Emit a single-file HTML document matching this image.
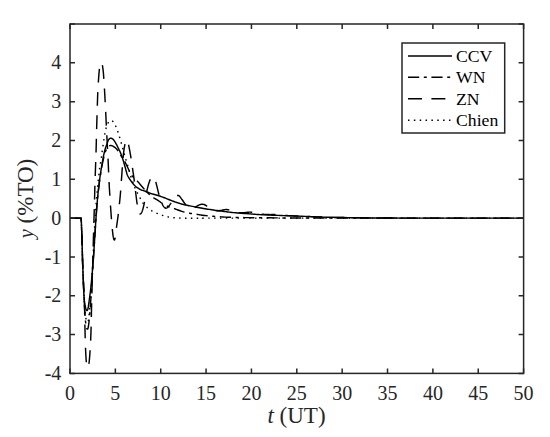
<!DOCTYPE html>
<html><head><meta charset="utf-8"><style>
html,body{margin:0;padding:0;background:#fff;}
body{width:550px;height:437px;overflow:hidden;font-family:"Liberation Serif",serif;}
svg{display:block;}
</style></head><body>
<svg width="550" height="437" viewBox="0 0 550 437">
<rect x="0" y="0" width="550" height="437" fill="#fff"/>
<g fill="none" stroke="#000" stroke-width="1.45" stroke-linejoin="round">
<path d="M70.00,218.11 L75.00,218.11 L81.20,218.11  L81.20,218.11 L81.26,219.80 L81.35,222.04 L81.45,224.71 L81.56,227.68 L81.68,230.82 L81.80,234.01 L81.90,237.11 L82.00,240.00 L82.08,242.77 L82.16,245.59 L82.24,248.42 L82.31,251.24 L82.38,254.04 L82.45,256.78 L82.52,259.44 L82.60,262.00 L82.68,264.46 L82.77,266.83 L82.86,269.13 L82.94,271.38 L83.03,273.57 L83.12,275.73 L83.21,277.87 L83.30,280.00 L83.39,282.14 L83.48,284.28 L83.57,286.41 L83.66,288.50 L83.74,290.53 L83.83,292.47 L83.92,294.30 L84.00,296.00 L84.08,297.54 L84.15,298.95 L84.22,300.23 L84.29,301.44 L84.36,302.59 L84.44,303.71 L84.52,304.84 L84.60,306.00 L84.69,307.20 L84.78,308.40 L84.88,309.60 L84.97,310.78 L85.08,311.93 L85.18,313.02 L85.29,314.05 L85.40,315.00 L85.52,315.88 L85.64,316.71 L85.76,317.49 L85.89,318.22 L86.02,318.88 L86.15,319.49 L86.27,320.03 L86.40,320.50 L86.53,320.90 L86.65,321.24 L86.78,321.51 L86.90,321.72 L87.03,321.87 L87.15,321.96 L87.28,322.01 L87.40,322.00 L87.52,321.97 L87.65,321.91 L87.77,321.81 L87.89,321.66 L88.02,321.42 L88.14,321.07 L88.27,320.61 L88.40,320.00 L88.53,319.26 L88.66,318.41 L88.79,317.45 L88.93,316.38 L89.06,315.20 L89.20,313.91 L89.35,312.51 L89.50,311.00 L89.66,309.43 L89.82,307.82 L89.99,306.13 L90.16,304.31 L90.34,302.33 L90.52,300.15 L90.71,297.72 L90.90,295.00 L91.10,291.89 L91.31,288.37 L91.53,284.56 L91.75,280.56 L91.97,276.50 L92.19,272.48 L92.40,268.61 L92.60,265.00 L92.79,261.60 L92.98,258.28 L93.16,255.04 L93.34,251.88 L93.52,248.79 L93.69,245.78 L93.85,242.85 L94.00,240.00 L94.14,237.24 L94.27,234.58 L94.40,232.00 L94.51,229.50 L94.63,227.06 L94.75,224.67 L94.87,222.32 L95.00,220.00 L95.14,217.70 L95.29,215.45 L95.44,213.23 L95.59,211.06 L95.75,208.95 L95.90,206.90 L96.05,204.91 L96.20,203.00 L96.34,201.16 L96.48,199.40 L96.62,197.70 L96.76,196.06 L96.90,194.48 L97.03,192.95 L97.17,191.45 L97.30,190.00 L97.43,188.59 L97.56,187.24 L97.69,185.94 L97.81,184.69 L97.94,183.47 L98.06,182.29 L98.18,181.13 L98.30,180.00 L98.42,178.90 L98.53,177.84 L98.64,176.81 L98.76,175.81 L98.87,174.84 L98.98,173.88 L99.09,172.94 L99.20,172.00 L99.31,171.06 L99.42,170.13 L99.53,169.21 L99.64,168.31 L99.76,167.43 L99.87,166.59 L99.98,165.77 L100.10,165.00 L100.22,164.28 L100.35,163.61 L100.49,162.98 L100.62,162.38 L100.75,161.79 L100.88,161.20 L100.99,160.61 L101.10,160.00 L101.19,159.38 L101.28,158.76 L101.35,158.14 L101.42,157.53 L101.49,156.90 L101.55,156.28 L101.62,155.64 L101.70,155.00 L101.78,154.35 L101.86,153.69 L101.95,153.02 L102.03,152.35 L102.12,151.67 L102.21,150.99 L102.30,150.30 L102.40,149.60 L102.50,148.89 L102.61,148.18 L102.72,147.46 L102.84,146.73 L102.95,146.00 L103.07,145.27 L103.19,144.53 L103.30,143.80 L103.41,143.06 L103.52,142.32 L103.64,141.57 L103.75,140.82 L103.86,140.08 L103.97,139.34 L104.09,138.61 L104.20,137.90 L104.31,137.20 L104.42,136.51 L104.52,135.82 L104.63,135.14 L104.74,134.47 L104.85,133.81 L104.97,133.15 L105.10,132.50 L105.23,131.85 L105.37,131.20 L105.51,130.55 L105.66,129.91 L105.81,129.28 L105.97,128.67 L106.13,128.07 L106.30,127.50 L106.47,126.94 L106.65,126.39 L106.84,125.85 L107.02,125.33 L107.22,124.83 L107.41,124.36 L107.61,123.91 L107.80,123.50 L108.00,123.12 L108.19,122.77 L108.39,122.44 L108.59,122.14 L108.80,121.87 L109.00,121.62 L109.20,121.40 L109.40,121.20 L109.60,121.03 L109.80,120.88 L110.00,120.75 L110.19,120.66 L110.39,120.58 L110.59,120.53 L110.80,120.50 L111.00,120.50 L111.21,120.52 L111.42,120.55 L111.63,120.62 L111.84,120.70 L112.05,120.81 L112.27,120.95 L112.48,121.11 L112.70,121.30 L112.92,121.52 L113.14,121.77 L113.36,122.04 L113.58,122.34 L113.81,122.66 L114.03,123.02 L114.26,123.39 L114.50,123.80 L114.74,124.24 L114.99,124.72 L115.25,125.22 L115.51,125.76 L115.76,126.31 L116.02,126.87 L116.26,127.43 L116.50,128.00 L116.73,128.57 L116.95,129.14 L117.16,129.73 L117.37,130.32 L117.58,130.92 L117.78,131.54 L117.99,132.16 L118.20,132.80 L118.41,133.45 L118.62,134.12 L118.84,134.80 L119.05,135.49 L119.26,136.18 L119.48,136.89 L119.69,137.59 L119.90,138.30 L120.11,139.01 L120.33,139.73 L120.54,140.45 L120.76,141.18 L120.97,141.90 L121.18,142.64 L121.39,143.37 L121.60,144.10 L121.80,144.83 L122.01,145.57 L122.21,146.31 L122.41,147.05 L122.60,147.79 L122.80,148.53 L123.00,149.27 L123.20,150.00 L123.39,150.71 L123.57,151.38 L123.75,152.03 L123.93,152.69 L124.12,153.38 L124.32,154.11 L124.55,154.91 L124.80,155.80 L125.08,156.77 L125.38,157.80 L125.70,158.88 L126.03,160.01 L126.38,161.20 L126.74,162.42 L127.12,163.69 L127.50,165.00 L127.90,166.38 L128.32,167.86 L128.75,169.40 L129.20,170.98 L129.65,172.56 L130.11,174.11 L130.56,175.60 L131.00,177.00 L131.44,178.33 L131.88,179.61 L132.33,180.86 L132.78,182.08 L133.22,183.25 L133.65,184.37 L134.08,185.46 L134.50,186.50 L134.90,187.48 L135.30,188.40 L135.68,189.27 L136.06,190.11 L136.43,190.91 L136.81,191.71 L137.20,192.50 L137.60,193.30 L138.01,194.11 L138.44,194.92 L138.87,195.72 L139.31,196.51 L139.74,197.29 L140.17,198.05 L140.59,198.79 L141.00,199.50 L141.38,200.19 L141.74,200.85 L142.08,201.49 L142.41,202.12 L142.76,202.73 L143.13,203.33 L143.54,203.92 L144.00,204.50 L144.51,205.08 L145.07,205.65 L145.66,206.22 L146.28,206.78 L146.91,207.31 L147.55,207.83 L148.18,208.33 L148.80,208.80 L149.40,209.24 L150.01,209.66 L150.61,210.05 L151.21,210.42 L151.82,210.78 L152.44,211.12 L153.06,211.46 L153.70,211.80 L154.35,212.13 L155.01,212.46 L155.69,212.77 L156.37,213.07 L157.05,213.37 L157.74,213.66 L158.42,213.93 L159.10,214.20 L159.77,214.46 L160.45,214.70 L161.12,214.94 L161.79,215.17 L162.47,215.39 L163.14,215.60 L163.82,215.80 L164.50,216.00 L165.18,216.19 L165.87,216.38 L166.56,216.55 L167.24,216.72 L167.93,216.89 L168.62,217.04 L169.31,217.17 L170.00,217.30 L170.66,217.41 L171.28,217.51 L171.89,217.59 L172.50,217.66 L173.14,217.73 L173.84,217.79 L174.62,217.84 L175.50,217.90 L176.46,217.95 L177.46,218.00 L178.53,218.05 L179.66,218.09 L180.86,218.12 L182.14,218.15 L183.52,218.18 L185.00,218.20 L186.44,218.22 L187.78,218.22 L189.12,218.23 L190.59,218.22 L192.30,218.22 L194.36,218.21 L196.89,218.21 L200.00,218.20 L202.14,218.19 L202.53,218.18 L202.46,218.16 L203.21,218.15 L206.06,218.13 L212.29,218.12 L223.17,218.11 L240.00,218.10 L265.73,218.10 L300.42,218.10 L340.97,218.10 L384.30,218.10 L427.32,218.10 L466.93,218.11 L500.06,218.11 L523.60,218.11" stroke-dasharray="1.5 4.35"/>
<path d="M70.60,218.11 L71.20,218.11 L71.80,218.11 L72.40,218.11 L73.00,218.11 L73.60,218.11 L74.20,218.11 L74.80,218.11 L75.40,218.11 L76.00,218.11 L76.60,218.11 L77.20,218.11 L77.80,218.11 L78.40,218.11 L79.00,218.11 L79.60,218.11 L80.20,218.11 L80.80,218.11 L81.21,218.31 L81.23,218.91 L81.25,219.51 L81.27,220.11 L81.30,220.71 L81.32,221.31 M81.68,230.90 L81.70,231.50 L81.73,232.10 L81.75,232.70 L81.77,233.30 L81.79,233.90 L81.81,234.50 L81.83,235.10 L81.85,235.70 L81.88,236.30 L81.90,236.90 L81.92,237.50 L81.94,238.10 L81.96,238.70 L81.98,239.30 L82.00,239.90 L82.02,240.50 L82.03,241.10 L82.05,241.70 L82.07,242.30 L82.09,242.90 L82.10,243.49 L82.12,244.09 L82.14,244.69 M82.38,254.29 L82.40,254.89 L82.41,255.49 L82.43,256.09 L82.45,256.69 L82.46,257.29 L82.48,257.89 L82.50,258.49 L82.51,259.09 L82.53,259.69 L82.55,260.29 L82.57,260.89 L82.58,261.49 L82.60,262.09 L82.62,262.69 L82.64,263.29 L82.66,263.89 L82.68,264.49 L82.71,265.09 L82.73,265.69 L82.75,266.29 L82.77,266.89 L82.79,267.48 L82.82,268.08 M83.20,277.68 L83.23,278.28 L83.25,278.88 L83.28,279.48 L83.30,280.07 L83.33,280.67 L83.35,281.27 L83.38,281.87 L83.40,282.47 L83.43,283.07 L83.46,283.67 L83.48,284.27 L83.51,284.87 L83.53,285.47 L83.56,286.07 L83.59,286.67 L83.61,287.27 L83.64,287.87 L83.67,288.47 L83.69,289.07 L83.72,289.67 L83.75,290.26 L83.77,290.86 L83.80,291.46 M84.24,301.05 L84.27,301.65 L84.29,302.25 L84.32,302.85 L84.35,303.45 L84.38,304.05 L84.40,304.65 L84.43,305.25 L84.45,305.85 L84.48,306.45 L84.50,307.05 L84.52,307.65 L84.54,308.25 L84.56,308.85 L84.58,309.45 L84.60,310.05 L84.62,310.65 L84.63,311.25 L84.65,311.85 L84.66,312.45 L84.68,313.05 L84.69,313.65 L84.70,314.24 L84.72,314.84 M84.89,324.44 L84.90,325.04 L84.91,325.64 L84.92,326.24 L84.93,326.84 L84.94,327.44 L84.96,328.04 L84.97,328.64 L84.98,329.24 L85.00,329.84 L85.01,330.44 L85.03,331.04 L85.04,331.64 L85.05,332.24 L85.07,332.84 L85.08,333.44 L85.10,334.04 L85.11,334.64 L85.13,335.24 L85.14,335.84 L85.16,336.44 L85.17,337.04 L85.19,337.64 L85.21,338.24 M85.51,347.83 L85.54,348.43 L85.56,349.03 L85.59,349.63 L85.61,350.23 L85.64,350.83 L85.67,351.43 L85.70,352.03 L85.72,352.63 L85.75,353.23 L85.78,353.83 L85.81,354.43 L85.85,355.03 L85.88,355.63 L85.91,356.22 L85.95,356.82 L85.99,357.42 L86.02,358.02 L86.06,358.62 L86.10,359.22 L86.15,359.82 L86.19,360.42 L86.25,361.01 L86.30,361.61 L86.36,362.21 M88.92,363.97 L89.00,363.38 L89.07,362.78 L89.14,362.18 L89.20,361.59 L89.26,360.99 L89.32,360.39 L89.37,359.79 L89.43,359.20 L89.48,358.60 L89.53,358.00 L89.58,357.40 L89.63,356.81 L89.68,356.21 L89.72,355.61 L89.77,355.01 L89.81,354.41 L89.86,353.81 L89.90,353.22 L89.94,352.62 L89.99,352.02 L90.03,351.42 L90.07,350.82 L90.10,350.22 M90.63,340.64 L90.66,340.04 L90.69,339.44 L90.71,338.84 L90.74,338.24 L90.76,337.64 L90.79,337.04 L90.81,336.44 L90.83,335.84 L90.86,335.24 L90.88,334.64 L90.90,334.04 L90.92,333.44 L90.94,332.84 L90.96,332.24 L90.98,331.64 L91.00,331.04 L91.02,330.44 L91.03,329.85 L91.05,329.25 L91.07,328.65 L91.08,328.05 L91.10,327.45 L91.11,326.85 L91.12,326.65 M91.33,317.05 L91.34,316.45 L91.36,315.85 L91.37,315.25 L91.38,314.65 L91.39,314.05 L91.41,313.45 L91.42,312.85 L91.43,312.25 L91.45,311.65 L91.46,311.05 L91.47,310.45 L91.49,309.85 L91.50,309.25 L91.51,308.65 L91.53,308.05 L91.54,307.45 L91.56,306.85 L91.57,306.25 L91.58,305.65 L91.60,305.05 L91.61,304.45 L91.63,303.85 L91.65,303.25 M91.92,293.46 L91.93,292.86 L91.95,292.26 L91.97,291.66 L91.99,291.06 L92.00,290.46 L92.02,289.86 L92.04,289.26 L92.06,288.66 L92.07,288.06 L92.09,287.46 L92.11,286.86 L92.12,286.26 L92.14,285.66 L92.16,285.06 L92.18,284.46 L92.19,283.86 L92.21,283.26 L92.23,282.66 L92.24,282.06 L92.26,281.46 L92.28,280.86 L92.29,280.26 L92.31,279.66 M92.57,270.07 L92.58,269.47 L92.60,268.87 L92.61,268.27 L92.63,267.67 L92.65,267.07 L92.66,266.47 L92.68,265.87 L92.69,265.27 L92.71,264.67 L92.72,264.07 L92.74,263.47 L92.76,262.87 L92.77,262.27 L92.79,261.67 L92.80,261.07 L92.82,260.47 L92.84,259.87 L92.85,259.27 L92.87,258.67 L92.88,258.07 L92.90,257.47 L92.92,256.87 L92.93,256.27 L92.94,256.07 M93.20,246.47 L93.21,245.87 L93.23,245.27 L93.25,244.67 L93.26,244.07 L93.28,243.47 L93.30,242.87 L93.31,242.28 L93.33,241.68 L93.35,241.08 L93.36,240.48 L93.38,239.88 L93.40,239.28 L93.41,238.68 L93.43,238.08 L93.45,237.48 L93.46,236.88 L93.48,236.28 L93.50,235.68 L93.51,235.08 L93.53,234.48 L93.55,233.88 L93.56,233.28 L93.58,232.68 M93.86,223.08 L93.87,222.48 L93.89,221.88 L93.91,221.28 L93.93,220.68 L93.95,220.08 L93.96,219.48 L93.98,218.88 L94.00,218.28 L94.02,217.69 L94.04,217.09 L94.06,216.49 L94.07,215.89 L94.09,215.29 L94.11,214.69 L94.13,214.09 L94.15,213.49 L94.17,212.89 L94.18,212.29 L94.20,211.69 L94.22,211.09 L94.24,210.49 L94.26,209.89 L94.27,209.29 L94.28,209.09 M94.55,199.49 L94.56,198.89 L94.58,198.29 L94.59,197.69 L94.61,197.09 L94.62,196.49 L94.64,195.89 L94.65,195.29 L94.67,194.69 L94.68,194.09 L94.70,193.49 L94.71,192.90 L94.73,192.30 L94.74,191.70 L94.76,191.10 L94.77,190.50 L94.79,189.90 L94.81,189.30 L94.82,188.70 L94.84,188.10 L94.86,187.50 L94.87,186.90 L94.89,186.30 L94.91,185.70 M95.22,176.10 L95.24,175.50 L95.26,174.90 L95.28,174.30 L95.31,173.70 L95.33,173.10 L95.35,172.50 L95.37,171.91 L95.39,171.31 L95.41,170.71 L95.43,170.11 L95.45,169.51 L95.47,168.91 L95.49,168.31 L95.51,167.71 L95.53,167.11 L95.55,166.51 L95.57,165.91 L95.59,165.31 L95.61,164.71 L95.63,164.11 L95.65,163.51 L95.67,162.91 L95.70,162.31 L95.70,162.11 M96.02,152.52 L96.04,151.92 L96.06,151.32 L96.08,150.72 L96.10,150.12 L96.11,149.52 L96.13,148.92 L96.15,148.32 L96.16,147.72 L96.18,147.12 L96.19,146.52 L96.21,145.92 L96.23,145.32 L96.24,144.72 L96.25,144.12 L96.27,143.52 L96.28,142.92 L96.30,142.32 L96.31,141.72 L96.33,141.12 L96.34,140.52 L96.35,139.92 L96.37,139.32 L96.38,138.72 M96.62,129.12 L96.64,128.52 L96.66,127.92 L96.67,127.32 L96.69,126.73 L96.71,126.13 L96.73,125.53 L96.74,124.93 L96.76,124.33 L96.78,123.73 L96.80,123.13 L96.81,122.53 L96.83,121.93 L96.85,121.33 L96.87,120.73 L96.89,120.13 L96.90,119.53 L96.92,118.93 L96.94,118.33 L96.96,117.73 L96.98,117.13 L97.00,116.53 L97.01,115.93 L97.03,115.33 M97.33,105.73 L97.35,105.14 L97.37,104.54 L97.39,103.94 L97.41,103.34 L97.42,102.74 L97.44,102.14 L97.46,101.54 L97.48,100.94 L97.50,100.34 L97.52,99.74 L97.54,99.14 L97.56,98.54 L97.58,97.94 L97.60,97.34 L97.62,96.74 L97.64,96.14 L97.66,95.54 L97.68,94.94 L97.71,94.34 L97.73,93.74 L97.75,93.14 L97.78,92.54 L97.79,92.14 M98.33,82.56 L98.37,81.96 L98.41,81.36 L98.45,80.76 L98.49,80.16 L98.53,79.56 L98.57,78.97 L98.61,78.37 L98.65,77.77 L98.69,77.17 L98.74,76.57 L98.78,75.97 L98.82,75.38 L98.87,74.78 L98.91,74.18 L98.96,73.58 L99.01,72.98 L99.06,72.38 L99.12,71.79 L99.17,71.19 L99.24,70.59 L99.30,70.00 L99.37,69.40 L99.45,68.81 M102.40,65.18 L102.49,65.78 L102.58,66.37 L102.67,66.96 L102.75,67.56 L102.84,68.15 L102.92,68.75 L103.00,69.34 L103.07,69.94 L103.14,70.53 L103.21,71.13 L103.27,71.72 L103.33,72.32 L103.39,72.92 L103.44,73.52 L103.50,74.11 L103.54,74.71 L103.59,75.31 L103.63,75.91 L103.68,76.51 L103.72,77.11 L103.76,77.70 L103.80,78.30 L103.84,78.90 M104.43,88.48 L104.47,89.08 L104.50,89.68 L104.54,90.28 L104.57,90.88 L104.60,91.48 L104.64,92.08 L104.67,92.68 L104.70,93.28 L104.74,93.87 L104.77,94.47 L104.80,95.07 L104.84,95.67 L104.87,96.27 L104.90,96.87 L104.94,97.47 L104.97,98.07 L105.00,98.67 L105.04,99.27 L105.07,99.87 L105.10,100.46 L105.13,101.06 L105.17,101.66 L105.20,102.26 M105.69,111.85 L105.72,112.45 L105.75,113.05 L105.78,113.65 L105.81,114.25 L105.83,114.85 L105.86,115.45 L105.89,116.04 L105.92,116.64 L105.94,117.24 L105.97,117.84 L106.00,118.44 L106.03,119.04 L106.06,119.64 L106.08,120.24 L106.11,120.84 L106.14,121.44 L106.17,122.04 L106.19,122.64 L106.22,123.24 L106.25,123.84 L106.28,124.44 L106.31,125.04 L106.33,125.63 M106.80,135.22 L106.84,135.82 L106.87,136.42 L106.90,137.02 L106.93,137.62 L106.96,138.22 L106.99,138.82 L107.02,139.42 L107.05,140.02 L107.08,140.62 L107.11,141.22 L107.14,141.81 L107.17,142.41 L107.20,143.01 L107.23,143.61 L107.26,144.21 L107.30,144.81 L107.33,145.41 L107.36,146.01 L107.39,146.61 L107.42,147.21 L107.46,147.81 L107.49,148.41 L107.52,149.00 M108.03,158.59 L108.06,159.19 L108.08,159.79 L108.11,160.39 L108.14,160.99 L108.16,161.59 L108.19,162.19 L108.21,162.79 L108.24,163.39 L108.27,163.99 L108.29,164.59 L108.31,165.18 L108.34,165.78 L108.36,166.38 L108.39,166.98 L108.41,167.58 L108.44,168.18 L108.46,168.78 L108.49,169.38 L108.51,169.98 L108.54,170.58 L108.56,171.18 L108.59,171.78 L108.62,172.38 M109.05,181.97 L109.08,182.57 L109.10,183.17 L109.14,183.77 L109.17,184.37 L109.20,184.96 L109.23,185.56 L109.26,186.16 L109.30,186.76 L109.33,187.36 L109.37,187.96 L109.40,188.56 L109.44,189.16 L109.48,189.76 L109.51,190.36 L109.55,190.95 L109.59,191.55 L109.62,192.15 L109.66,192.75 L109.70,193.35 L109.74,193.95 L109.78,194.55 L109.82,195.15 L109.85,195.74 M110.49,205.52 L110.53,206.12 L110.57,206.72 L110.62,207.32 L110.66,207.92 L110.70,208.52 L110.74,209.12 L110.78,209.71 L110.82,210.31 L110.86,210.91 L110.91,211.51 L110.95,212.11 L110.99,212.71 L111.03,213.31 L111.07,213.90 L111.12,214.50 L111.16,215.10 L111.20,215.70 L111.24,216.30 L111.29,216.90 L111.33,217.49 L111.38,218.09 L111.42,218.69 L111.47,219.29 M112.30,229.05 L112.36,229.65 L112.43,230.25 L112.49,230.84 L112.55,231.44 L112.61,232.04 L112.68,232.63 L112.75,233.23 L112.82,233.83 L112.89,234.42 L112.97,235.02 L113.06,235.61 L113.15,236.20 L113.26,236.79 L113.37,237.38 L113.50,237.97 L113.65,238.55 L113.81,239.13 L114.02,239.69 L114.41,240.06 L114.71,239.54 L114.88,238.97 L115.03,238.39 L115.15,237.80 L115.19,237.60 M116.43,227.88 L116.50,227.29 L116.58,226.69 L116.65,226.10 L116.73,225.50 L116.82,224.91 L116.90,224.31 L116.98,223.72 L117.07,223.13 L117.16,222.53 L117.24,221.94 L117.33,221.35 L117.41,220.75 L117.50,220.16 L117.58,219.56 L117.67,218.97 L117.75,218.38 L117.83,217.78 L117.91,217.19 L117.99,216.59 L118.06,216.00 L118.14,215.40 L118.21,214.81 L118.28,214.21 L118.33,213.81 M119.38,204.27 L119.45,203.67 L119.51,203.08 L119.57,202.48 L119.64,201.88 L119.70,201.29 L119.76,200.69 L119.82,200.09 L119.88,199.50 L119.94,198.90 L120.00,198.30 L120.05,197.70 L120.11,197.11 L120.16,196.51 L120.22,195.91 L120.27,195.31 L120.32,194.72 L120.37,194.12 L120.42,193.52 L120.47,192.92 L120.52,192.32 L120.57,191.73 L120.61,191.13 L120.66,190.53 M121.35,180.96 L121.39,180.36 L121.44,179.76 L121.48,179.16 L121.52,178.56 L121.57,177.96 L121.61,177.36 L121.65,176.77 L121.70,176.17 L121.74,175.57 L121.78,174.97 L121.83,174.37 L121.87,173.77 L121.91,173.18 L121.96,172.58 L122.00,171.98 L122.04,171.38 L122.09,170.78 L122.13,170.18 L122.17,169.58 L122.21,168.99 L122.25,168.39 L122.30,167.79 L122.34,167.19 M123.09,157.82 L123.14,157.22 L123.20,156.63 L123.26,156.03 L123.32,155.43 L123.38,154.84 L123.45,154.24 L123.51,153.64 L123.58,153.05 L123.65,152.45 L123.72,151.85 L123.79,151.26 L123.87,150.66 L123.95,150.07 L124.03,149.47 L124.12,148.88 L124.21,148.29 L124.30,147.70 L124.40,147.10 L124.51,146.51 L124.61,145.92 L124.73,145.33 L124.85,144.75 L124.97,144.16 M128.57,144.75 L128.69,145.34 L128.81,145.93 L128.93,146.52 L129.05,147.10 L129.17,147.69 L129.28,148.28 L129.39,148.87 L129.51,149.46 L129.62,150.05 L129.73,150.64 L129.83,151.23 L129.94,151.82 L130.05,152.41 L130.15,153.00 L130.26,153.59 L130.36,154.18 L130.46,154.77 L130.56,155.37 L130.66,155.96 L130.76,156.55 L130.86,157.14 L130.96,157.73 L131.05,158.33 M132.46,167.82 L132.55,168.42 L132.63,169.01 L132.72,169.60 L132.80,170.20 L132.89,170.79 L132.97,171.39 L133.05,171.98 L133.14,172.57 L133.22,173.17 L133.31,173.76 L133.40,174.36 L133.49,174.95 L133.57,175.54 L133.66,176.14 L133.75,176.73 L133.83,177.32 L133.92,177.92 L134.00,178.51 L134.08,179.11 L134.16,179.70 L134.24,180.30 L134.31,180.89 L134.39,181.49 M135.52,191.02 L135.59,191.62 L135.66,192.21 L135.73,192.81 L135.80,193.40 L135.87,194.00 L135.94,194.60 L136.01,195.19 L136.08,195.79 L136.15,196.38 L136.22,196.98 L136.29,197.57 L136.37,198.17 L136.44,198.77 L136.52,199.36 L136.59,199.96 L136.67,200.55 L136.75,201.14 L136.83,201.74 L136.91,202.33 L136.99,202.93 L137.08,203.52 L137.16,204.12 L137.22,204.51 M139.62,213.72 L140.12,214.03 L140.67,213.84 L141.07,213.40 L141.39,212.89 L141.67,212.36 L141.92,211.82 L142.15,211.26 L142.36,210.70 L142.56,210.13 L142.74,209.56 L142.90,208.98 L143.06,208.41 L143.22,207.83 L143.36,207.24 L143.50,206.66 L143.64,206.08 L143.78,205.49 L143.91,204.91 L144.04,204.32 L144.16,203.73 L144.29,203.15 L144.40,202.56 L144.52,201.97 M146.46,192.57 L146.60,191.98 L146.73,191.40 L146.86,190.81 L147.00,190.23 L147.14,189.65 L147.28,189.06 L147.43,188.48 L147.58,187.90 L147.72,187.32 L147.88,186.74 L148.03,186.16 L148.19,185.58 L148.35,185.00 L148.51,184.42 L148.68,183.85 L148.85,183.27 L149.03,182.70 L149.23,182.13 L149.43,181.57 L149.63,181.01 L149.86,180.45 L150.09,179.90 L150.34,179.35 M155.77,181.90 L155.94,182.48 L156.09,183.06 L156.24,183.64 L156.39,184.22 L156.53,184.80 L156.68,185.39 L156.82,185.97 L156.96,186.55 L157.11,187.13 L157.25,187.72 L157.40,188.30 L157.54,188.88 L157.68,189.46 L157.82,190.05 L157.95,190.63 L158.09,191.22 L158.23,191.80 L158.37,192.38 L158.52,192.97 L158.67,193.55 L158.82,194.13 L158.97,194.71 L159.03,194.90 M162.13,203.76 L162.39,204.31 L162.65,204.84 L162.94,205.37 L163.25,205.88 L163.59,206.38 L163.96,206.85 L164.35,207.31 L164.79,207.72 L165.28,208.06 L165.84,208.24 L166.43,208.15 L166.96,207.87 L167.44,207.50 L167.89,207.12 L168.32,206.70 L168.72,206.24 L169.09,205.77 L169.44,205.29 L169.79,204.80 L170.13,204.31 L170.46,203.80 L170.78,203.30 L171.09,202.78 M177.06,195.44 L177.65,195.35 L178.24,195.43 L178.79,195.66 L179.28,196.01 L179.72,196.41 L180.11,196.87 L180.48,197.35 L180.83,197.83 L181.17,198.32 L181.51,198.82 L181.86,199.31 L182.21,199.79 L182.56,200.28 L182.90,200.78 L183.23,201.27 L183.57,201.77 L183.93,202.25 L184.29,202.73 L184.66,203.20 L185.05,203.66 L185.43,204.12 L185.83,204.57 L186.24,205.01 M194.68,207.48 L195.21,207.21 L195.73,206.90 L196.23,206.58 L196.73,206.25 L197.25,205.94 L197.78,205.66 L198.31,205.39 L198.86,205.13 L199.40,204.89 L199.96,204.67 L200.53,204.49 L201.12,204.36 L201.71,204.27 L202.31,204.25 L202.91,204.29 L203.50,204.39 L204.08,204.55 L204.64,204.76 L205.18,205.02 L205.70,205.33 L206.19,205.67 L206.66,206.05 L207.12,206.43 M215.62,210.66 L216.22,210.76 L216.81,210.82 L217.41,210.83 L218.01,210.80 L218.61,210.75 L219.20,210.67 L219.80,210.58 L220.39,210.49 L220.98,210.40 L221.58,210.31 L222.16,210.19 L222.75,210.06 L223.33,209.93 L223.92,209.80 L224.51,209.70 L225.11,209.63 L225.71,209.57 L226.31,209.56 L226.90,209.59 L227.50,209.66 L228.09,209.75 L228.68,209.87 L229.27,210.01 M238.50,212.60 L239.09,212.70 L239.69,212.77 L240.28,212.82 L240.88,212.84 L241.48,212.84 L242.08,212.82 L242.68,212.78 L243.28,212.74 L243.88,212.69 L244.48,212.64 L245.07,212.59 L245.67,212.54 L246.27,212.47 L246.86,212.38 L247.46,212.30 L248.05,212.22 L248.65,212.16 L249.25,212.12 L249.85,212.10 L250.44,212.12 L251.04,212.16 L251.64,212.23 L252.23,212.31 M261.65,214.15 L262.25,214.23 L262.84,214.29 L263.44,214.34 L264.04,214.39 L264.64,214.42 L265.24,214.46 L265.84,214.48 L266.44,214.51 L267.04,214.53 L267.64,214.55 L268.24,214.56 L268.84,214.57 L269.44,214.59 L270.04,214.60 L270.64,214.60 L271.24,214.59 L271.84,214.57 L272.43,214.55 L273.03,214.51 L273.63,214.49 L274.23,214.47 L274.83,214.47 L275.43,214.48 M284.99,215.40 L285.58,215.44 L286.18,215.48 L286.78,215.52 L287.38,215.56 L287.98,215.60 L288.58,215.64 L289.18,215.67 L289.78,215.71 L290.38,215.74 L290.97,215.78 L291.57,215.81 L292.17,215.84 L292.77,215.87 L293.37,215.90 L293.97,215.93 L294.57,215.96 L295.17,215.99 L295.77,216.01 L296.37,216.04 L296.97,216.07 L297.57,216.09 L298.17,216.12 L298.77,216.15 M308.36,216.54 L308.96,216.57 L309.56,216.59 L310.16,216.62 L310.76,216.64 L311.35,216.66 L311.95,216.69 L312.55,216.71 L313.15,216.73 L313.75,216.76 L314.35,216.78 L314.95,216.80 L315.55,216.82 L316.15,216.85 L316.75,216.87 L317.35,216.89 L317.95,216.91 L318.55,216.93 L319.15,216.96 L319.75,216.98 L320.35,217.00 L320.95,217.02 L321.55,217.04 L322.15,217.06 M331.74,217.34 L332.34,217.36 L332.94,217.37 L333.54,217.39 L334.14,217.40 L334.74,217.42 L335.34,217.43 L335.94,217.44 L336.54,217.46 L337.14,217.47 L337.74,217.48 L338.34,217.49 L338.94,217.50 L339.54,217.52 L340.14,217.53 L340.74,217.54 L341.34,217.55 L341.94,217.56 L342.54,217.57 L343.14,217.58 L343.74,217.59 L344.34,217.60 L344.94,217.61 L345.54,217.62 M355.14,217.74 L355.74,217.75 L356.34,217.76 L356.94,217.76 L357.54,217.77 L358.14,217.78 L358.74,217.79 L359.34,217.79 L359.94,217.80 L360.54,217.81 L361.14,217.81 L361.74,217.82 L362.34,217.83 L362.94,217.83 L363.54,217.84 L364.14,217.84 L364.74,217.85 L365.34,217.86 L365.94,217.86 L366.54,217.87 L367.14,217.87 L367.74,217.88 L368.34,217.89 L368.94,217.89 M378.54,217.97 L379.14,217.98 L379.74,217.98 L380.34,217.99 L380.94,217.99 L381.54,218.00 L382.14,218.00 L382.74,218.01 L383.34,218.01 L383.94,218.01 L384.54,218.02 L385.14,218.02 L385.74,218.03 L386.34,218.03 L386.94,218.03 L387.54,218.04 L388.14,218.04 L388.74,218.04 L389.34,218.05 L389.94,218.05 L390.54,218.05 L391.14,218.06 L391.74,218.06 L392.34,218.06 M401.94,218.11 L402.54,218.11 L403.14,218.11 L403.74,218.11 L404.34,218.11 L404.94,218.11 L405.54,218.12 L406.14,218.12 L406.74,218.12 L407.34,218.12 L407.94,218.12 L408.54,218.12 L409.14,218.12 L409.74,218.12 L410.34,218.12 L410.94,218.12 L411.54,218.12 L412.14,218.12 L412.74,218.12 L413.34,218.12 L413.94,218.12 L414.54,218.12 L415.14,218.12 L415.74,218.12 M425.34,218.11 L425.94,218.11 L426.54,218.11 L427.14,218.11 L427.74,218.11 L428.34,218.11 L428.94,218.10 L429.54,218.10 L430.14,218.10 L430.74,218.10 L431.34,218.10 L431.94,218.10 L432.54,218.10 L433.14,218.10 L433.74,218.10 L434.34,218.10 L434.94,218.10 L435.54,218.10 L436.14,218.10 L436.74,218.10 L437.34,218.10 L437.94,218.10 L438.54,218.10 L439.14,218.10 M448.74,218.10 L449.34,218.10 L449.94,218.10 L450.54,218.10 L451.14,218.10 L451.74,218.10 L452.34,218.10 L452.94,218.10 L453.54,218.10 L454.14,218.10 L454.74,218.10 L455.34,218.10 L455.94,218.10 L456.54,218.10 L457.14,218.10 L457.74,218.10 L458.34,218.10 L458.94,218.10 L459.54,218.10 L460.14,218.10 L460.74,218.10 L461.34,218.10 L461.94,218.10 L462.54,218.10 M472.14,218.10 L472.74,218.10 L473.34,218.10 L473.94,218.10 L474.54,218.10 L475.14,218.10 L475.74,218.10 L476.34,218.10 L476.94,218.10 L477.54,218.10 L478.14,218.10 L478.74,218.10 L479.34,218.10 L479.94,218.10 L480.54,218.11 L481.14,218.11 L481.74,218.11 L482.34,218.11 L482.94,218.11 L483.54,218.11 L484.14,218.11 L484.74,218.11 L485.34,218.11 L485.94,218.11 M495.54,218.11 L496.14,218.11 L496.74,218.11 L497.34,218.11 L497.94,218.11 L498.54,218.11 L499.14,218.11 L499.74,218.11 L500.34,218.11 L500.94,218.11 L501.54,218.11 L502.14,218.11 L502.74,218.11 L503.34,218.11 L503.94,218.11 L504.54,218.11 L505.14,218.11 L505.74,218.11 L506.34,218.11 L506.94,218.11 L507.54,218.11 L508.14,218.11 L508.74,218.11 L509.34,218.11 M518.94,218.11 L519.54,218.11 L520.14,218.11 L520.74,218.11 L521.34,218.11 L521.94,218.11 L522.54,218.11 L523.14,218.11 L523.60,218.11"/>
<path d="M70.00,218.11 L75.00,218.11 L81.20,218.11  L81.20,218.11 L81.26,219.80 L81.35,222.04 L81.45,224.71 L81.56,227.68 L81.68,230.82 L81.80,234.01 L81.90,237.11 L82.00,240.00 L82.08,242.77 L82.16,245.59 L82.24,248.42 L82.31,251.24 L82.38,254.04 L82.45,256.78 L82.52,259.44 L82.60,262.00 L82.68,264.46 L82.77,266.83 L82.86,269.13 L82.94,271.38 L83.03,273.57 L83.12,275.73 L83.21,277.87 L83.30,280.00 L83.39,282.12 L83.48,284.23 L83.57,286.32 L83.66,288.38 L83.74,290.38 L83.83,292.33 L83.92,294.21 L84.00,296.00 L84.08,297.70 L84.15,299.30 L84.23,300.84 L84.30,302.31 L84.37,303.75 L84.45,305.16 L84.52,306.58 L84.60,308.00 L84.68,309.45 L84.76,310.90 L84.85,312.35 L84.93,313.78 L85.02,315.18 L85.11,316.52 L85.20,317.80 L85.30,319.00 L85.40,320.14 L85.51,321.24 L85.62,322.29 L85.73,323.28 L85.85,324.21 L85.96,325.06 L86.08,325.83 L86.20,326.50 L86.32,327.08 L86.44,327.57 L86.57,327.98 L86.69,328.31 L86.82,328.58 L86.95,328.77 L87.07,328.91 L87.20,329.00 L87.32,329.06 L87.45,329.09 L87.57,329.08 L87.69,329.00 L87.81,328.82 L87.94,328.53 L88.07,328.10 L88.20,327.50 L88.34,326.75 L88.48,325.89 L88.63,324.90 L88.78,323.78 L88.93,322.54 L89.08,321.16 L89.24,319.65 L89.40,318.00 L89.56,316.27 L89.72,314.47 L89.88,312.58 L90.04,310.53 L90.21,308.30 L90.40,305.82 L90.59,303.07 L90.80,300.00 L91.03,296.46 L91.29,292.44 L91.55,288.07 L91.83,283.50 L92.11,278.87 L92.39,274.31 L92.65,269.98 L92.90,266.00 L93.13,262.34 L93.36,258.84 L93.58,255.49 L93.79,252.25 L94.00,249.11 L94.21,246.03 L94.40,243.00 L94.60,240.00 L94.79,237.03 L94.97,234.12 L95.15,231.28 L95.32,228.50 L95.49,225.78 L95.66,223.12 L95.83,220.53 L96.00,218.00 L96.18,215.51 L96.35,213.05 L96.53,210.65 L96.71,208.31 L96.89,206.06 L97.06,203.91 L97.23,201.89 L97.40,200.00 L97.56,198.29 L97.71,196.76 L97.86,195.36 L98.00,194.06 L98.14,192.82 L98.29,191.59 L98.44,190.33 L98.60,189.00 L98.76,187.62 L98.93,186.23 L99.10,184.83 L99.28,183.44 L99.45,182.05 L99.63,180.68 L99.81,179.33 L100.00,178.00 L100.19,176.69 L100.39,175.38 L100.59,174.09 L100.79,172.81 L100.99,171.56 L101.20,170.34 L101.40,169.15 L101.60,168.00 L101.80,166.89 L102.00,165.82 L102.20,164.79 L102.40,163.78 L102.60,162.80 L102.80,161.85 L103.00,160.91 L103.20,160.00 L103.40,159.11 L103.59,158.24 L103.78,157.39 L103.97,156.57 L104.16,155.77 L104.36,154.99 L104.58,154.24 L104.80,153.50 L105.04,152.78 L105.29,152.06 L105.56,151.36 L105.82,150.68 L106.10,150.04 L106.37,149.44 L106.64,148.89 L106.90,148.40 L107.16,147.98 L107.41,147.61 L107.67,147.30 L107.93,147.02 L108.18,146.79 L108.42,146.58 L108.67,146.38 L108.90,146.20 L109.12,146.03 L109.33,145.89 L109.53,145.77 L109.72,145.67 L109.92,145.59 L110.13,145.54 L110.36,145.51 L110.60,145.50 L110.86,145.51 L111.14,145.55 L111.43,145.60 L111.73,145.68 L112.04,145.78 L112.36,145.90 L112.68,146.04 L113.00,146.20 L113.34,146.39 L113.69,146.60 L114.06,146.84 L114.42,147.09 L114.79,147.36 L115.15,147.64 L115.49,147.92 L115.80,148.20 L116.09,148.47 L116.35,148.74 L116.60,149.01 L116.83,149.29 L117.06,149.58 L117.30,149.89 L117.54,150.23 L117.80,150.60 L118.08,151.01 L118.36,151.47 L118.66,151.97 L118.96,152.47 L119.25,152.99 L119.55,153.49 L119.83,153.96 L120.10,154.40 L120.36,154.80 L120.61,155.18 L120.85,155.54 L121.09,155.88 L121.32,156.22 L121.55,156.54 L121.77,156.87 L122.00,157.20 L122.21,157.51 L122.41,157.78 L122.60,158.04 L122.79,158.29 L122.99,158.57 L123.20,158.89 L123.44,159.26 L123.70,159.70 L124.00,160.22 L124.32,160.81 L124.67,161.45 L125.03,162.13 L125.39,162.84 L125.77,163.56 L126.14,164.28 L126.50,165.00 L126.86,165.72 L127.21,166.47 L127.57,167.23 L127.93,168.01 L128.29,168.78 L128.66,169.54 L129.03,170.28 L129.40,171.00 L129.77,171.69 L130.12,172.37 L130.48,173.03 L130.84,173.68 L131.21,174.32 L131.61,174.95 L132.03,175.58 L132.50,176.20 L133.02,176.82 L133.60,177.43 L134.21,178.03 L134.84,178.63 L135.47,179.22 L136.09,179.79 L136.67,180.35 L137.20,180.90 L137.67,181.42 L138.10,181.91 L138.50,182.39 L138.89,182.85 L139.27,183.31 L139.65,183.79 L140.06,184.28 L140.50,184.80 L140.98,185.36 L141.49,185.94 L142.01,186.55 L142.54,187.16 L143.08,187.78 L143.61,188.38 L144.12,188.95 L144.60,189.50 L145.05,190.01 L145.46,190.48 L145.85,190.94 L146.24,191.38 L146.63,191.82 L147.05,192.26 L147.50,192.72 L148.00,193.20 L148.56,193.71 L149.16,194.24 L149.80,194.79 L150.46,195.34 L151.13,195.89 L151.80,196.42 L152.46,196.93 L153.10,197.40 L153.73,197.84 L154.37,198.24 L155.00,198.63 L155.64,199.00 L156.26,199.36 L156.86,199.71 L157.45,200.05 L158.00,200.40 L158.51,200.74 L158.97,201.07 L159.41,201.39 L159.83,201.70 L160.25,202.01 L160.69,202.33 L161.17,202.66 L161.70,203.00 L162.28,203.36 L162.88,203.74 L163.51,204.12 L164.16,204.51 L164.84,204.90 L165.54,205.28 L166.26,205.65 L167.00,206.00 L167.79,206.33 L168.63,206.66 L169.52,206.98 L170.41,207.29 L171.30,207.58 L172.16,207.87 L172.97,208.14 L173.70,208.40 L174.34,208.63 L174.90,208.84 L175.40,209.04 L175.88,209.22 L176.35,209.40 L176.84,209.58 L177.38,209.78 L178.00,210.00 L178.70,210.24 L179.45,210.51 L180.24,210.79 L181.06,211.07 L181.89,211.36 L182.72,211.63 L183.53,211.88 L184.30,212.10 L185.04,212.30 L185.76,212.47 L186.47,212.63 L187.17,212.78 L187.87,212.91 L188.57,213.04 L189.28,213.17 L190.00,213.30 L190.73,213.43 L191.46,213.54 L192.18,213.65 L192.92,213.76 L193.66,213.86 L194.42,213.97 L195.20,214.08 L196.00,214.20 L196.81,214.33 L197.63,214.47 L198.46,214.61 L199.31,214.75 L200.18,214.89 L201.09,215.03 L202.02,215.17 L203.00,215.30 L204.00,215.42 L205.02,215.54 L206.05,215.65 L207.12,215.76 L208.24,215.87 L209.42,215.98 L210.67,216.09 L212.00,216.20 L213.39,216.32 L214.80,216.43 L216.27,216.56 L217.81,216.67 L219.44,216.79 L221.16,216.90 L223.01,217.01 L225.00,217.10 L227.06,217.18 L229.16,217.26 L231.33,217.33 L233.62,217.39 L236.09,217.44 L238.78,217.50 L241.73,217.55 L245.00,217.60 L248.55,217.65 L252.34,217.69 L256.37,217.73 L260.62,217.77 L265.12,217.80 L269.84,217.84 L274.80,217.87 L280.00,217.90 L284.55,217.93 L288.08,217.96 L291.34,217.99 L295.09,218.02 L300.07,218.04 L307.05,218.07 L316.78,218.08 L330.00,218.10 L348.65,218.11 L372.84,218.12 L400.59,218.12 L429.93,218.12 L458.87,218.12 L485.45,218.11 L507.68,218.11 L523.60,218.11" stroke-dasharray="11.2 4.6 3.0 4.6" stroke-dashoffset="-4.3"/>
<path d="M70.00,218.11 L75.00,218.11 L81.20,218.11  L81.20,218.11 L81.26,219.80 L81.35,222.04 L81.45,224.71 L81.56,227.68 L81.68,230.82 L81.80,234.01 L81.90,237.11 L82.00,240.00 L82.08,242.77 L82.16,245.59 L82.24,248.42 L82.31,251.24 L82.38,254.04 L82.45,256.78 L82.52,259.44 L82.60,262.00 L82.68,264.46 L82.77,266.83 L82.86,269.13 L82.94,271.38 L83.03,273.57 L83.12,275.73 L83.21,277.87 L83.30,280.00 L83.39,282.15 L83.47,284.34 L83.56,286.52 L83.64,288.66 L83.73,290.71 L83.82,292.64 L83.91,294.42 L84.00,296.00 L84.09,297.36 L84.19,298.53 L84.28,299.54 L84.38,300.44 L84.47,301.24 L84.58,302.00 L84.68,302.74 L84.80,303.50 L84.92,304.27 L85.05,305.00 L85.19,305.69 L85.33,306.34 L85.47,306.95 L85.62,307.52 L85.76,308.04 L85.90,308.50 L86.04,308.92 L86.18,309.30 L86.32,309.65 L86.46,309.94 L86.59,310.17 L86.73,310.35 L86.87,310.46 L87.00,310.50 L87.13,310.48 L87.25,310.42 L87.37,310.31 L87.49,310.12 L87.61,309.87 L87.74,309.52 L87.87,309.06 L88.00,308.50 L88.14,307.82 L88.28,307.03 L88.42,306.14 L88.56,305.16 L88.71,304.09 L88.87,302.96 L89.03,301.76 L89.20,300.50 L89.38,299.22 L89.56,297.94 L89.75,296.60 L89.94,295.19 L90.15,293.65 L90.36,291.97 L90.57,290.10 L90.80,288.00 L91.04,285.64 L91.30,283.04 L91.57,280.23 L91.84,277.28 L92.12,274.23 L92.39,271.14 L92.65,268.04 L92.90,265.00 L93.13,261.95 L93.36,258.82 L93.58,255.64 L93.79,252.44 L94.00,249.24 L94.21,246.09 L94.40,243.00 L94.60,240.00 L94.79,237.08 L94.97,234.20 L95.15,231.35 L95.32,228.56 L95.49,225.83 L95.66,223.15 L95.83,220.54 L96.00,218.00 L96.18,215.52 L96.35,213.08 L96.53,210.69 L96.71,208.38 L96.89,206.13 L97.06,203.98 L97.23,201.94 L97.40,200.00 L97.56,198.21 L97.71,196.55 L97.86,195.02 L98.00,193.56 L98.14,192.16 L98.29,190.79 L98.44,189.41 L98.60,188.00 L98.76,186.57 L98.93,185.17 L99.10,183.78 L99.28,182.41 L99.45,181.04 L99.63,179.69 L99.81,178.34 L100.00,177.00 L100.19,175.66 L100.38,174.33 L100.58,173.00 L100.77,171.69 L100.98,170.38 L101.18,169.08 L101.39,167.79 L101.60,166.50 L101.82,165.21 L102.04,163.91 L102.26,162.60 L102.49,161.31 L102.72,160.04 L102.95,158.81 L103.17,157.63 L103.40,156.50 L103.63,155.42 L103.85,154.39 L104.08,153.39 L104.31,152.42 L104.53,151.50 L104.76,150.63 L104.98,149.79 L105.20,149.00 L105.42,148.26 L105.64,147.59 L105.86,146.96 L106.08,146.38 L106.29,145.82 L106.50,145.27 L106.70,144.74 L106.90,144.20 L107.09,143.65 L107.27,143.11 L107.45,142.57 L107.62,142.06 L107.79,141.56 L107.96,141.10 L108.13,140.68 L108.30,140.30 L108.48,139.97 L108.65,139.69 L108.83,139.44 L109.01,139.23 L109.18,139.05 L109.36,138.88 L109.53,138.74 L109.70,138.60 L109.87,138.48 L110.03,138.39 L110.19,138.31 L110.35,138.26 L110.51,138.22 L110.67,138.20 L110.83,138.19 L111.00,138.20 L111.17,138.22 L111.35,138.27 L111.52,138.33 L111.70,138.40 L111.88,138.49 L112.05,138.58 L112.23,138.69 L112.40,138.80 L112.56,138.90 L112.71,139.00 L112.85,139.09 L112.99,139.20 L113.14,139.33 L113.30,139.50 L113.49,139.72 L113.70,140.00 L113.95,140.34 L114.22,140.74 L114.52,141.19 L114.83,141.68 L115.15,142.19 L115.47,142.72 L115.79,143.26 L116.10,143.80 L116.40,144.35 L116.71,144.94 L117.01,145.54 L117.32,146.16 L117.62,146.79 L117.92,147.40 L118.21,148.01 L118.50,148.60 L118.78,149.16 L119.05,149.70 L119.31,150.23 L119.58,150.76 L119.83,151.29 L120.09,151.83 L120.34,152.40 L120.60,153.00 L120.85,153.62 L121.10,154.25 L121.35,154.89 L121.59,155.56 L121.84,156.24 L122.09,156.96 L122.34,157.71 L122.60,158.50 L122.86,159.33 L123.13,160.21 L123.40,161.12 L123.67,162.06 L123.95,163.03 L124.23,164.01 L124.51,165.00 L124.80,166.00 L125.09,167.05 L125.40,168.17 L125.71,169.33 L126.03,170.50 L126.34,171.63 L126.64,172.70 L126.93,173.67 L127.20,174.50 L127.45,175.18 L127.69,175.75 L127.92,176.22 L128.14,176.62 L128.36,176.97 L128.57,177.31 L128.78,177.64 L129.00,178.00 L129.22,178.37 L129.43,178.72 L129.64,179.05 L129.85,179.37 L130.06,179.68 L130.27,179.99 L130.48,180.29 L130.70,180.60 L130.92,180.91 L131.15,181.22 L131.37,181.53 L131.60,181.84 L131.83,182.14 L132.05,182.43 L132.28,182.72 L132.50,183.00 L132.71,183.27 L132.92,183.53 L133.13,183.78 L133.33,184.03 L133.54,184.27 L133.75,184.51 L133.97,184.75 L134.20,185.00 L134.44,185.25 L134.69,185.51 L134.95,185.78 L135.22,186.04 L135.49,186.29 L135.76,186.54 L136.03,186.78 L136.30,187.00 L136.57,187.20 L136.84,187.39 L137.10,187.57 L137.38,187.74 L137.65,187.90 L137.93,188.06 L138.21,188.23 L138.50,188.40 L138.78,188.57 L139.05,188.74 L139.31,188.91 L139.57,189.08 L139.87,189.25 L140.19,189.43 L140.57,189.61 L141.00,189.80 L141.51,190.00 L142.07,190.20 L142.69,190.40 L143.34,190.61 L144.02,190.83 L144.69,191.05 L145.36,191.27 L146.00,191.50 L146.61,191.74 L147.20,191.98 L147.79,192.23 L148.38,192.48 L148.98,192.74 L149.61,192.99 L150.28,193.25 L151.00,193.50 L151.78,193.75 L152.62,193.99 L153.50,194.24 L154.41,194.48 L155.32,194.73 L156.24,194.98 L157.14,195.24 L158.00,195.50 L158.82,195.76 L159.61,196.03 L160.37,196.29 L161.14,196.56 L161.92,196.84 L162.72,197.13 L163.58,197.45 L164.50,197.80 L165.49,198.18 L166.53,198.60 L167.61,199.05 L168.73,199.51 L169.87,199.97 L171.02,200.43 L172.17,200.88 L173.30,201.30 L174.44,201.71 L175.61,202.12 L176.80,202.52 L177.98,202.92 L179.16,203.30 L180.31,203.66 L181.43,204.00 L182.50,204.30 L183.50,204.56 L184.41,204.79 L185.29,204.98 L186.14,205.16 L187.01,205.32 L187.93,205.50 L188.91,205.69 L190.00,205.90 L191.20,206.14 L192.49,206.40 L193.84,206.66 L195.24,206.94 L196.66,207.21 L198.10,207.48 L199.51,207.75 L200.90,208.00 L202.26,208.24 L203.62,208.48 L204.99,208.71 L206.35,208.94 L207.71,209.16 L209.08,209.38 L210.44,209.59 L211.80,209.80 L213.16,210.00 L214.53,210.20 L215.89,210.39 L217.25,210.58 L218.61,210.77 L219.97,210.95 L221.34,211.12 L222.70,211.30 L224.02,211.47 L225.30,211.64 L226.55,211.80 L227.81,211.96 L229.11,212.12 L230.49,212.28 L231.97,212.44 L233.60,212.60 L235.43,212.77 L237.46,212.94 L239.63,213.11 L241.86,213.29 L244.08,213.46 L246.22,213.62 L248.22,213.77 L250.00,213.90 L251.50,214.02 L252.76,214.11 L253.87,214.20 L254.90,214.28 L255.95,214.36 L257.09,214.43 L258.41,214.51 L260.00,214.60 L261.81,214.69 L263.73,214.79 L265.77,214.88 L267.94,214.98 L270.24,215.08 L272.68,215.18 L275.26,215.29 L278.00,215.40 L280.96,215.52 L284.16,215.64 L287.55,215.76 L291.06,215.89 L294.63,216.02 L298.18,216.15 L301.66,216.28 L305.00,216.40 L308.19,216.52 L311.27,216.64 L314.30,216.76 L317.31,216.88 L320.35,217.00 L323.45,217.11 L326.65,217.21 L330.00,217.30 L333.44,217.38 L336.91,217.46 L340.44,217.53 L344.06,217.59 L347.80,217.64 L351.68,217.70 L355.74,217.75 L360.00,217.80 L364.52,217.85 L369.30,217.90 L374.27,217.94 L379.38,217.98 L384.56,218.02 L389.77,218.05 L394.93,218.08 L400.00,218.10 L404.70,218.11 L408.98,218.12 L413.08,218.12 L417.28,218.12 L421.81,218.11 L426.93,218.11 L432.91,218.10 L440.00,218.10 L448.94,218.10 L459.79,218.10 L471.83,218.10 L484.30,218.11 L496.46,218.11 L507.56,218.11 L516.85,218.11 L523.60,218.11"/>
</g>
<g stroke="#262626" stroke-width="1.5" fill="none">
<rect x="70.0" y="24.0" width="453.60" height="349.40"/>
<path d="M70.00,373.4 V368.40 M70.00,24.0 V29.00 M115.36,373.4 V368.40 M115.36,24.0 V29.00 M160.72,373.4 V368.40 M160.72,24.0 V29.00 M206.08,373.4 V368.40 M206.08,24.0 V29.00 M251.44,373.4 V368.40 M251.44,24.0 V29.00 M296.80,373.4 V368.40 M296.80,24.0 V29.00 M342.16,373.4 V368.40 M342.16,24.0 V29.00 M387.52,373.4 V368.40 M387.52,24.0 V29.00 M432.88,373.4 V368.40 M432.88,24.0 V29.00 M478.24,373.4 V368.40 M478.24,24.0 V29.00 M523.60,373.4 V368.40 M523.60,24.0 V29.00 M70.0,373.40 H75.00 M523.6,373.40 H518.60 M70.0,334.58 H75.00 M523.6,334.58 H518.60 M70.0,295.76 H75.00 M523.6,295.76 H518.60 M70.0,256.93 H75.00 M523.6,256.93 H518.60 M70.0,218.11 H75.00 M523.6,218.11 H518.60 M70.0,179.29 H75.00 M523.6,179.29 H518.60 M70.0,140.47 H75.00 M523.6,140.47 H518.60 M70.0,101.64 H75.00 M523.6,101.64 H518.60 M70.0,62.82 H75.00 M523.6,62.82 H518.60 M70.0,24.00 H75.00 M523.6,24.00 H518.60 "/>
</g>
<g font-family="Liberation Serif" font-size="20" fill="#262626">
<text x="70.00" y="399.7" text-anchor="middle">0</text>
<text x="115.36" y="399.7" text-anchor="middle">5</text>
<text x="160.72" y="399.7" text-anchor="middle">10</text>
<text x="206.08" y="399.7" text-anchor="middle">15</text>
<text x="251.44" y="399.7" text-anchor="middle">20</text>
<text x="296.80" y="399.7" text-anchor="middle">25</text>
<text x="342.16" y="399.7" text-anchor="middle">30</text>
<text x="387.52" y="399.7" text-anchor="middle">35</text>
<text x="432.88" y="399.7" text-anchor="middle">40</text>
<text x="478.24" y="399.7" text-anchor="middle">45</text>
<text x="523.60" y="399.7" text-anchor="middle">50</text>
<text x="61.3" y="380.00" text-anchor="end">-4</text>
<text x="61.3" y="341.18" text-anchor="end">-3</text>
<text x="61.3" y="302.36" text-anchor="end">-2</text>
<text x="61.3" y="263.53" text-anchor="end">-1</text>
<text x="61.3" y="224.71" text-anchor="end">0</text>
<text x="61.3" y="185.89" text-anchor="end">1</text>
<text x="61.3" y="147.07" text-anchor="end">2</text>
<text x="61.3" y="108.24" text-anchor="end">3</text>
<text x="61.3" y="69.42" text-anchor="end">4</text>
</g>
<g font-family="Liberation Serif" font-size="23" fill="#262626">
<text x="296.5" y="423" text-anchor="middle"><tspan font-style="italic">t</tspan> (UT)</text>
<text transform="translate(33,198.5) rotate(-90)" text-anchor="middle"><tspan font-style="italic" font-size="20.5">y</tspan> (%TO)</text>
</g>
<rect x="402" y="43" width="102.70" height="90.00" fill="#fff" stroke="#262626" stroke-width="1.5"/>
<g fill="none" stroke="#000" stroke-width="1.45">
<path d="M408,56.0 H452"/>
<path d="M408,77.3 H452" stroke-dasharray="11.2 4.6 3.0 4.6"/>
<path d="M408,98.8 H452" stroke-dasharray="14.0 9.4"/>
<path d="M408,120.2 H452" stroke-dasharray="1.5 4.35"/>
</g>
<g font-family="Liberation Serif" font-size="17.7" fill="#000">
<text x="456" y="62.0">CCV</text>
<text x="456" y="83.3">WN</text>
<text x="456" y="104.8">ZN</text>
<text x="456" y="126.2">Chien</text>
</g>
</svg>
</body></html>
